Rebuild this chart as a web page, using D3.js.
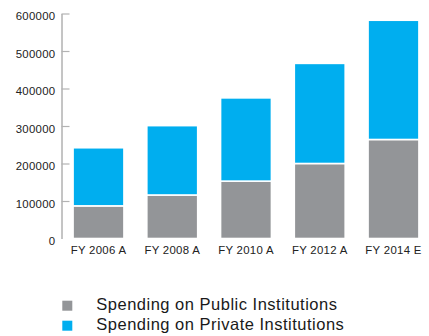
<!DOCTYPE html>
<html>
<head>
<meta charset="utf-8">
<script src="https://cdn.jsdelivr.net/npm/d3@7"></script>
<style>
  html, body { margin: 0; padding: 0; background: #fff; }
  svg { display: block; }
  text { font-family: "Liberation Sans", Arial, Helvetica, sans-serif; }
</style>
</head>
<body>
<svg id="chart" width="429" height="336"></svg>
<script>
// Fiscal-year categories and the two stacked spending series
const categories = ["FY 2006 A", "FY 2008 A", "FY 2010 A", "FY 2012 A", "FY 2014 E"];
const publicSpending = [87000, 116000, 153000, 200000, 264000];
const totalSpending = [242000, 301000, 375000, 467000, 582000];
const privateSpending = totalSpending.map((t, i) => t - publicSpending[i]);
const yTicks = [0, 100000, 200000, 300000, 400000, 500000, 600000];
const seriesNames = ["Spending on Public Institutions", "Spending on Private Institutions"];
const seriesColors = ["#939598", "#00aeef"];

const svg = d3.select("#chart");

const x = d3.scaleBand()
  .domain(categories)
  .range([62, 430])
  .paddingInner(0.31)
  .paddingOuter(0.15);

const y = d3.scaleLinear()
  .domain([0, 600000])
  .range([238.5, 13.5]);

// Stack the public (bottom) and private (top) segments
const rows = categories.map((c, i) => ({ cat: c, pub: publicSpending[i], priv: privateSpending[i] }));
const stack = d3.stack().keys(["pub", "priv"]);
const layers = stack(rows);

// Vertical axis: ticks point inward, labels on the left
const yAxis = d3.axisLeft(y)
  .tickValues(yTicks)
  .tickFormat(d3.format("d"))
  .tickSizeInner(-8)
  .tickSizeOuter(0)
  .tickPadding(6);

const gy = svg.append("g")
  .attr("transform", "translate(61.5,0)")
  .call(yAxis);
gy.select(".domain").attr("stroke", "#8a8a8a").attr("stroke-width", 1);
gy.selectAll(".tick line").attr("stroke", "#b3b3b3").attr("stroke-width", 1.2);
gy.selectAll(".tick").filter(d => d === 0).select("line").remove();
gy.selectAll(".tick text")
  .attr("fill", "#222")
  .attr("font-size", 11.4)
  .attr("letter-spacing", 0.3)
  .attr("dy", "0.55em");

// Bars
svg.append("g")
  .selectAll("g")
  .data(layers)
  .join("g")
  .attr("fill", (d, i) => seriesColors[i])
  .selectAll("rect")
  .data(d => d)
  .join("rect")
  .attr("x", d => x(d.data.cat))
  .attr("width", x.bandwidth())
  .attr("y", d => y(d[1]))
  .attr("height", d => y(d[0]) - y(d[1]))
  .attr("stroke", "#fff")
  .attr("stroke-width", 1.6);

// Category labels beneath the bars
const xAxis = d3.axisBottom(x).tickSize(0).tickPadding(7);
const gx = svg.append("g")
  .attr("transform", "translate(0,238.5)")
  .call(xAxis);
gx.select(".domain").remove();
gx.selectAll(".tick text")
  .attr("fill", "#222")
  .attr("font-size", 11.4)
  .attr("letter-spacing", 0.3);

// Legend
const legend = svg.append("g");
seriesNames.forEach((name, i) => {
  const gy0 = 300.7 + i * 20;
  legend.append("rect")
    .attr("x", 62.3).attr("y", gy0)
    .attr("width", 10).attr("height", 10)
    .attr("fill", seriesColors[i]);
  legend.append("text")
    .attr("x", 96.3).attr("y", gy0 + 9.5)
    .attr("fill", "#1a1a1a")
    .attr("font-size", 16.5)
    .attr("letter-spacing", 0.5)
    .text(name);
});
</script>
</body>
</html>
